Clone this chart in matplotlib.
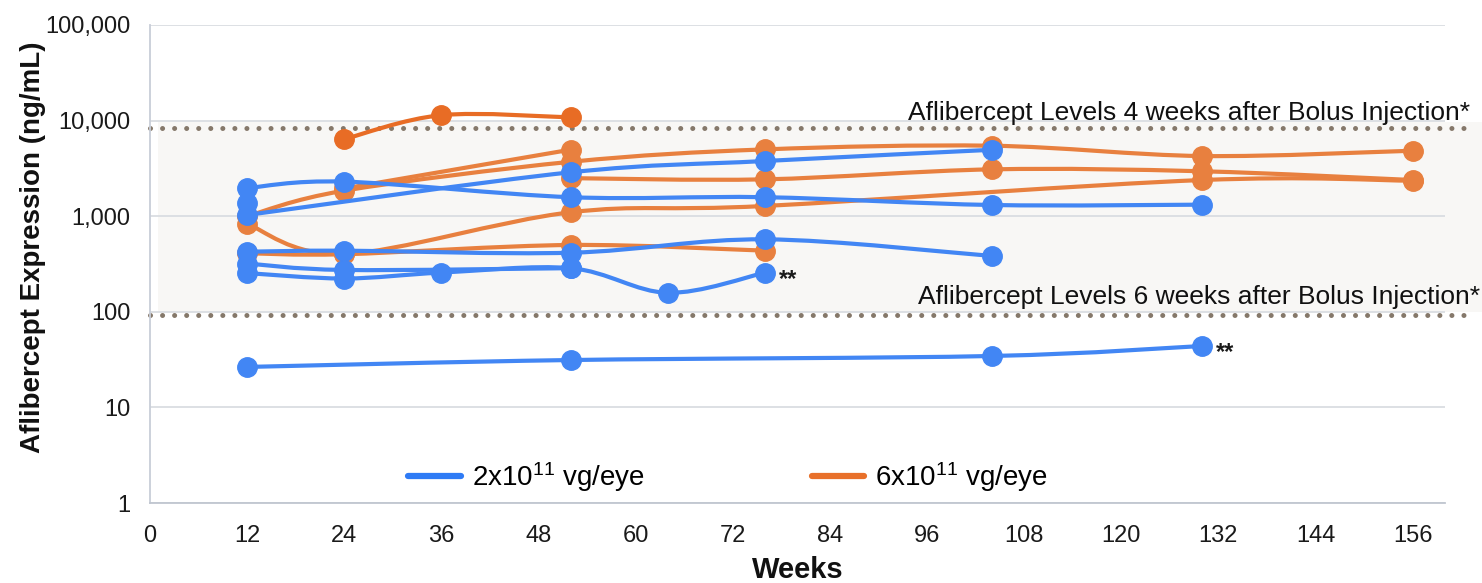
import numpy as np
import matplotlib
matplotlib.use("Agg")
import matplotlib.pyplot as plt
from matplotlib.path import Path
from matplotlib.patches import PathPatch, Rectangle
from matplotlib.lines import Line2D
from matplotlib.ticker import FixedLocator, FuncFormatter

plt.rcParams['font.family'] = ['Liberation Sans', 'DejaVu Sans']
plt.rcParams['mathtext.fontset'] = 'custom'
plt.rcParams['mathtext.rm'] = 'Liberation Sans'
plt.rcParams['mathtext.default'] = 'regular'

# 2x10^11 vg/eye cohort (weeks, ng/mL)
low_weeks = [[12, 24, 52, 76, 104, 130],
             [12, 52, 76, 104],
             [12],
             [12, 24, 52, 76, 104],
             [12, 24, 52],
             [12, 24, 36, 52, 64, 76],
             [12, 52, 104, 130]]
low_vals = [[1970, 2300, 1580, 1580, 1310, 1320],
            [1030, 2880, 3780, 4950],
            [1380],
            [425, 436, 415, 573, 384],
            [320, 274, 286],
            [254, 223, 257, 286, 158, 257],
            [26.5, 31.3, 34.5, 43.9]]

# 6x10^11 vg/eye cohort
high_weeks = [[24, 36, 52],
              [12, 24, 52, 76, 104, 130, 156],
              [24, 52],
              [52, 76, 104, 130, 156],
              [12, 24, 52, 76, 130, 156],
              [12, 24, 52, 76]]
high_vals = [[6400, 11400, 10800],
             [1000, 1850, 3710, 5000, 5460, 4260, 4840],
             [1950, 4970],
             [2500, 2430, 3090, 2950, 2390],
             [828, 402, 1100, 1280, 2390, 2350],
             [410, 400, 500, 436]]

x_ticks = list(range(0, 157, 12))
y_ticks = [1, 10, 100, 1000, 10000, 100000]
ref_4wk = 8450
ref_6wk = 93
band = (100, 9700)
starred = [(76, 257), (130, 43.9)]

BLUE = '#4286F4'
ORANGE = '#E8803F'
ORANGE_DARK = '#E86C25'


def smooth_path(xs, ys):
    # catmull-rom through the points, done in (x, log y) space
    lx = np.asarray(xs, float)
    ly = np.log10(np.asarray(ys, float))
    n = len(lx)
    verts = [(lx[0], ly[0])]
    codes = [Path.MOVETO]
    for i in range(n - 1):
        a = i - 1 if i > 0 else i
        d = i + 2 if i + 2 < n else i + 1
        c1 = (lx[i] + (lx[i + 1] - lx[a]) / 6, ly[i] + (ly[i + 1] - ly[a]) / 6)
        c2 = (lx[i + 1] - (lx[d] - lx[i]) / 6, ly[i + 1] - (ly[d] - ly[i]) / 6)
        verts += [c1, c2, (lx[i + 1], ly[i + 1])]
        codes += [Path.CURVE4] * 3
    verts = [(x, 10 ** y) for x, y in verts]
    return Path(verts, codes)


def draw_series(ax, xs, ys, color, z):
    if len(xs) > 1:
        ax.add_patch(PathPatch(smooth_path(xs, ys), fill=False, edgecolor=color,
                               lw=3.0, transform=ax.transData, zorder=z,
                               capstyle='round', joinstyle='round'))
    ax.plot(xs, ys, 'o', ms=14, color=color, mec=color, zorder=z + 0.5)


fig = plt.figure(figsize=(14.82, 5.83), dpi=100)
ax = fig.add_axes([150 / 1482, 1 - 503 / 583, (1445 - 150) / 1482, (503 - 25) / 583])

ax.set_yscale('log')
ax.set_xlim(0, 160)
ax.set_ylim(1, 100000)

ax.add_patch(Rectangle((1, band[0]), 164, band[1] - band[0], facecolor='#F8F7F5',
                       edgecolor='none', zorder=0, clip_on=False))

ax.yaxis.set_major_locator(FixedLocator(y_ticks))
ax.yaxis.set_minor_locator(FixedLocator([]))
ax.yaxis.set_major_formatter(FuncFormatter(lambda v, p: f'{v:,.0f}'))
ax.set_xticks(x_ticks)
ax.tick_params(axis='both', length=0, labelsize=17, colors='#1a1a1a')
ax.tick_params(axis='x', pad=16)
ax.tick_params(axis='y', pad=14)
ax.grid(axis='y', color='#DADDE2', lw=1.3, zorder=1)
ax.set_axisbelow(True)
for s in ['top', 'right']:
    ax.spines[s].set_visible(False)
ax.spines['left'].set_color('#C8CED8')
ax.spines['bottom'].set_color('#C0C6D0')
ax.spines['left'].set_linewidth(1.3)
ax.spines['bottom'].set_linewidth(1.3)

for yv in (ref_4wk, ref_6wk):
    ax.plot([0, 162.5], [yv, yv], color='#85786A', lw=3.6, linestyle=(0, (0.01, 2.4)),
            dash_capstyle='round', solid_capstyle='round', clip_on=False, zorder=2)

for i, (xs, ys) in enumerate(zip(high_weeks, high_vals)):
    draw_series(ax, xs, ys, ORANGE_DARK if i == 0 else ORANGE, 3)
for xs, ys in zip(low_weeks, low_vals):
    draw_series(ax, xs, ys, BLUE, 5)

for xv, yv in starred:
    ax.annotate('**', (xv, yv), xytext=(10, -5), textcoords='offset points',
                fontsize=17, fontweight='bold', ha='left', va='center', color='#1a1a1a')

fig.text(1470 / 1482, 1 - 113 / 583, 'Aflibercept Levels 4 weeks after Bolus Injection*',
         ha='right', va='center', fontsize=19, color='#111111')
fig.text(1480 / 1482, 1 - 297 / 583, 'Aflibercept Levels 6 weeks after Bolus Injection*',
         ha='right', va='center', fontsize=19, color='#111111')

fig.text(33 / 1482, 1 - 247 / 583, 'Aflibercept Expression (ng/mL)', rotation=90,
         ha='center', va='center', fontsize=20, fontweight='bold', color='#111111')
fig.text(798 / 1482, 1 - 570 / 583, 'Weeks', ha='center', va='center',
         fontsize=21, fontweight='bold', color='#111111')

handles = [Line2D([], [], color='#2F7BF5', lw=4.5, solid_capstyle='round'),
           Line2D([], [], color='#E8702A', lw=4.5, solid_capstyle='round')]
ax.legend(handles, ['2x10$^{11}$ vg/eye', '6x10$^{11}$ vg/eye'], ncol=2,
          loc='center left', bbox_to_anchor=(408 / 1482, 1 - 477 / 583),
          bbox_transform=fig.transFigure, frameon=False, fontsize=20,
          handlelength=1.9, handletextpad=0.4, columnspacing=6.0,
          borderpad=0, borderaxespad=0)

fig.savefig('out.png', dpi=100)
